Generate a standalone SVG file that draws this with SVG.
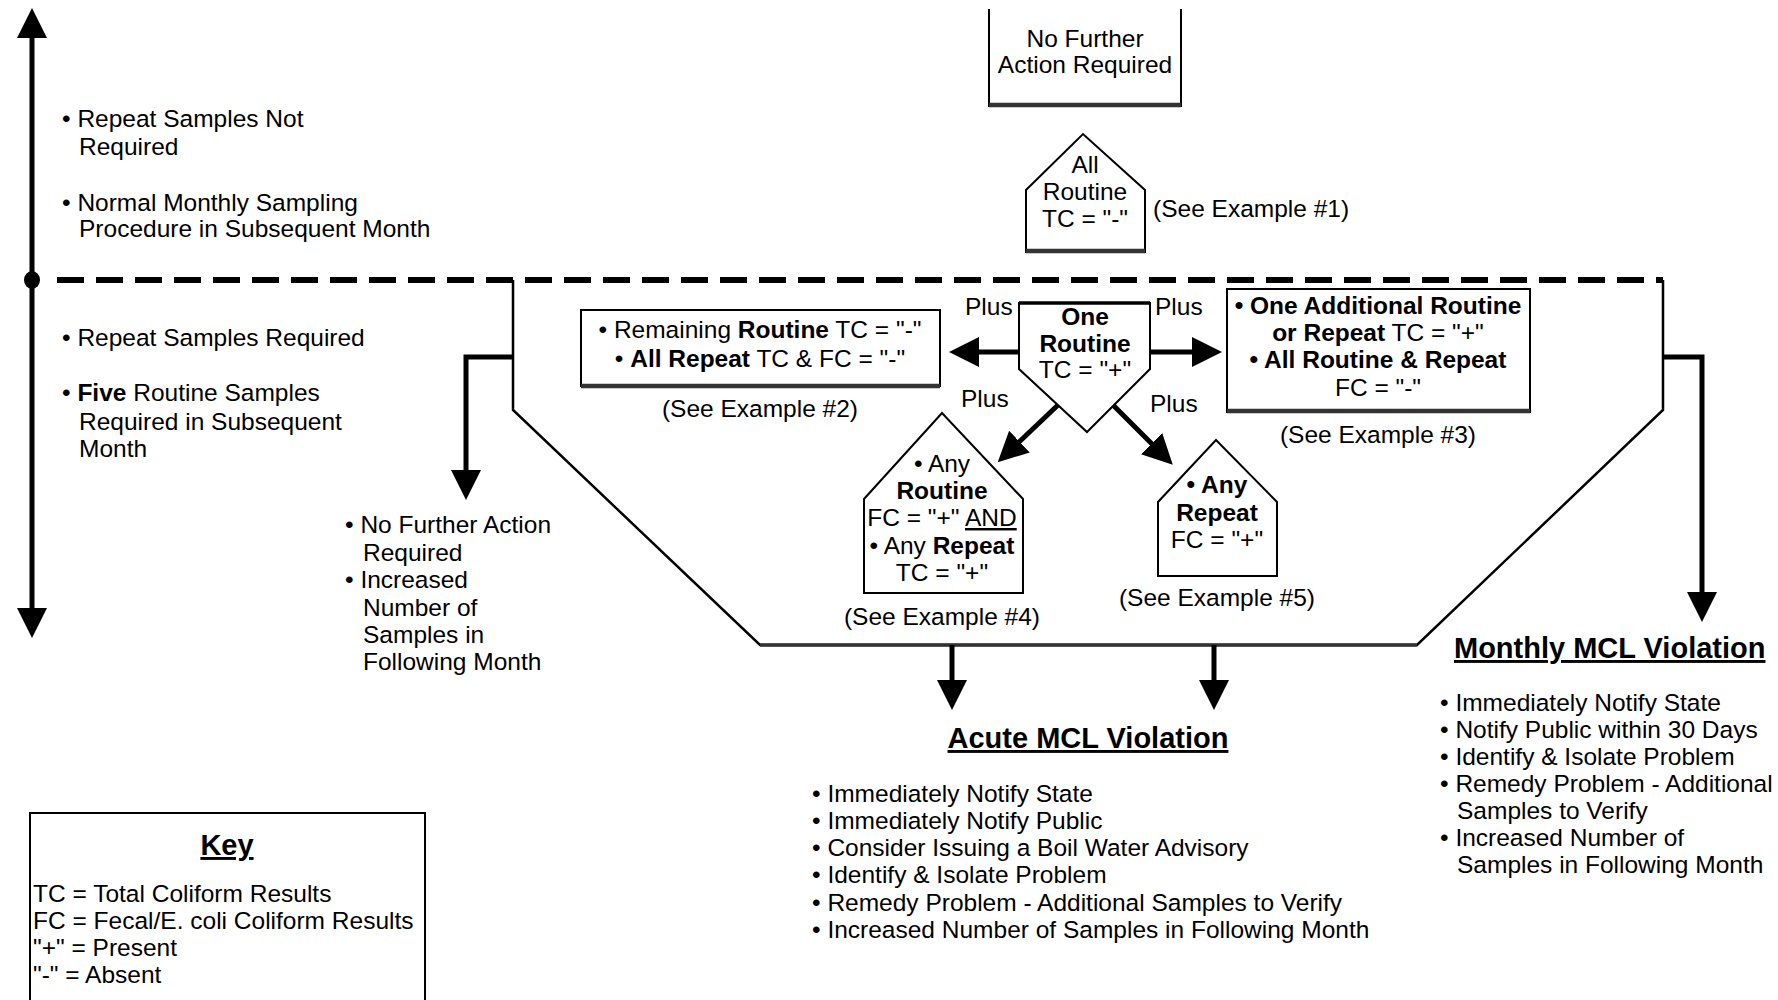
<svg xmlns="http://www.w3.org/2000/svg" width="1778" height="1000" viewBox="0 0 1778 1000">
  <style>
    .t { font-family: "Liberation Sans", Arial, Helvetica, sans-serif; font-size: 24.5px; fill: #000; }
    .b { font-weight: bold; }
    .c { text-anchor: middle; }
    .h { font-size: 29px; font-weight: bold; text-decoration: underline; }
    .u { text-decoration: underline; }
    .box { fill: #fff; stroke: #000; stroke-width: 2; }
    .open { fill: none; stroke: #000; stroke-width: 2; }
    .shadow { stroke: #333; stroke-width: 4.5; fill: none; }
    .thick { stroke: #000; stroke-width: 5; fill: none; }
    .thin { stroke: #000; stroke-width: 2.5; fill: none; }
    .dash { stroke: #000; stroke-width: 6; stroke-dasharray: 27 12; fill: none; }
  </style>
  <defs>
    <marker id="head" markerUnits="userSpaceOnUse" markerWidth="32" markerHeight="32" refX="2" refY="15" orient="auto-start-reverse" viewBox="0 0 32 30">
      <path d="M0,0 L30,15 L0,30 Z" fill="#000"/>
    </marker>
  </defs>
  <rect width="1778" height="1000" fill="#fff"/>

  <!-- connectors: timeline, threshold, trapezoid and arrows -->
  <g id="connectors">
    <line class="thick" x1="32" y1="36" x2="32" y2="610" marker-start="url(#head)" marker-end="url(#head)"/>
    <line class="dash" x1="57" y1="280" x2="1663" y2="280"/>
    <ellipse cx="32" cy="280" rx="8" ry="9" fill="#000"/>
    <path class="thin" d="M513,280 V410 L760,645 H1417 L1663,410 V280"/>
    <line x1="760" y1="645" x2="1417" y2="645" stroke="#333" stroke-width="3.5"/>
    <!-- side exits -->
    <path class="thick" d="M513,357 H466 V472" marker-end="url(#head)"/>
    <path class="thick" d="M1663,357 H1702 V594" marker-end="url(#head)"/>
    <!-- bottom exits -->
    <line class="thick" x1="952" y1="645" x2="952" y2="682" marker-end="url(#head)"/>
    <line class="thick" x1="1214" y1="645" x2="1214" y2="682" marker-end="url(#head)"/>
    <!-- from One Routine -->
    <line class="thick" x1="1019" y1="352" x2="977" y2="352" marker-end="url(#head)"/>
    <line class="thick" x1="1150" y1="352" x2="1194" y2="352" marker-end="url(#head)"/>
    <line class="thick" x1="1058" y1="405" x2="1018" y2="443" marker-end="url(#head)"/>
    <line class="thick" x1="1113" y1="405" x2="1153" y2="445" marker-end="url(#head)"/>
    <text class="t" x="965" y="315">Plus</text>
    <text class="t" x="1155" y="315">Plus</text>
    <text class="t" x="961" y="407">Plus</text>
    <text class="t" x="1150" y="412">Plus</text>
  </g>

  <!-- left-hand notes beside the timeline -->
  <g id="note-upper">
    <text class="t" x="62" y="127">• Repeat Samples Not</text>
    <text class="t" x="79" y="155">Required</text>
    <text class="t" x="62" y="211">• Normal Monthly Sampling</text>
    <text class="t" x="79" y="237">Procedure in Subsequent Month</text>
  </g>
  <g id="note-lower">
    <text class="t" x="62" y="346">• Repeat Samples Required</text>
    <text class="t" x="62" y="401">• <tspan class="b">Five</tspan> Routine Samples</text>
    <text class="t" x="79" y="430">Required in Subsequent</text>
    <text class="t" x="79" y="457">Month</text>
  </g>

  <g id="node-no-further-top">
    <path class="open" d="M989,9 V106 H1181 V9"/>
    <line class="shadow" x1="989" y1="105" x2="1181" y2="105"/>
    <text class="t c" x="1085" y="47">No Further</text>
    <text class="t c" x="1085" y="73">Action Required</text>
  </g>

  <g id="node-all-routine">
    <path class="box" d="M1026,252 V190 L1083,134 L1145,190 V252 Z"/>
    <line class="shadow" x1="1026" y1="251" x2="1145" y2="251"/>
    <text class="t c" x="1085" y="173">All</text>
    <text class="t c" x="1085" y="200">Routine</text>
    <text class="t c" x="1085" y="227">TC = "-"</text>
    <text class="t" x="1153" y="217">(See Example #1)</text>
  </g>

  <g id="node-one-routine">
    <path class="box" d="M1019,303 H1150 V369 L1087,432 L1019,369 Z"/>
    <line x1="1019" y1="303" x2="1150" y2="303" stroke="#000" stroke-width="3.5"/>
    <text class="t c b" x="1085" y="325">One</text>
    <text class="t c b" x="1085" y="352">Routine</text>
    <text class="t c" x="1085" y="378">TC = "+"</text>
  </g>

  <g id="node-remaining">
    <rect class="box" x="581" y="310" width="359" height="76"/>
    <line class="shadow" x1="581" y1="386" x2="940" y2="386"/>
    <text class="t c" x="760" y="338">• Remaining <tspan class="b">Routine</tspan> TC = "-"</text>
    <text class="t c" x="760" y="367">• <tspan class="b">All Repeat</tspan> TC &amp; FC = "-"</text>
    <text class="t c" x="760" y="417">(See Example #2)</text>
  </g>

  <g id="node-one-additional">
    <rect class="box" x="1227" y="289" width="303" height="123"/>
    <line class="shadow" x1="1227" y1="411" x2="1530" y2="411"/>
    <text class="t c b" x="1378" y="314">• One Additional Routine</text>
    <text class="t c" x="1378" y="341"><tspan class="b">or Repeat</tspan> TC = "+"</text>
    <text class="t c b" x="1378" y="368">• All Routine &amp; Repeat</text>
    <text class="t c" x="1378" y="396">FC = "-"</text>
    <text class="t c" x="1378" y="443">(See Example #3)</text>
  </g>

  <g id="node-any-routine">
    <path class="box" d="M864,593 V499 L942,413 L1023,499 V593 Z"/>
    <text class="t c" x="942" y="472">• Any</text>
    <text class="t c b" x="942" y="499">Routine</text>
    <text class="t c" x="942" y="526">FC = "+" <tspan class="u">AND</tspan></text>
    <text class="t c" x="942" y="554">• Any <tspan class="b">Repeat</tspan></text>
    <text class="t c" x="942" y="581">TC = "+"</text>
    <text class="t c" x="942" y="625">(See Example #4)</text>
  </g>

  <g id="node-any-repeat">
    <path class="box" d="M1158,576 V502 L1216,440 L1277,502 V576 Z"/>
    <text class="t c b" x="1217" y="493">• Any</text>
    <text class="t c b" x="1217" y="521">Repeat</text>
    <text class="t c" x="1217" y="548">FC = "+"</text>
    <text class="t c" x="1217" y="606">(See Example #5)</text>
  </g>

  <g id="node-no-further-lower">
    <text class="t" x="345" y="533">• No Further Action</text>
    <text class="t" x="363" y="561">Required</text>
    <text class="t" x="345" y="588">• Increased</text>
    <text class="t" x="363" y="616">Number of</text>
    <text class="t" x="363" y="643">Samples in</text>
    <text class="t" x="363" y="670">Following Month</text>
  </g>

  <g id="node-acute">
    <text class="t h c" x="1088" y="748">Acute MCL Violation</text>
    <text class="t" x="812" y="802">• Immediately Notify State</text>
    <text class="t" x="812" y="829">• Immediately Notify Public</text>
    <text class="t" x="812" y="856">• Consider Issuing a Boil Water Advisory</text>
    <text class="t" x="812" y="883">• Identify &amp; Isolate Problem</text>
    <text class="t" x="812" y="911">• Remedy Problem - Additional Samples to Verify</text>
    <text class="t" x="812" y="938">• Increased Number of Samples in Following Month</text>
  </g>

  <g id="node-monthly">
    <text class="t h" x="1454" y="658">Monthly MCL Violation</text>
    <text class="t" x="1440" y="711">• Immediately Notify State</text>
    <text class="t" x="1440" y="738">• Notify Public within 30 Days</text>
    <text class="t" x="1440" y="765">• Identify &amp; Isolate Problem</text>
    <text class="t" x="1440" y="792">• Remedy Problem - Additional</text>
    <text class="t" x="1457" y="819">Samples to Verify</text>
    <text class="t" x="1440" y="846">• Increased Number of</text>
    <text class="t" x="1457" y="873">Samples in Following Month</text>
  </g>

  <g id="key">
    <path class="open" d="M30,1000 V813 H425 V1000"/>
    <text class="t h c" x="227" y="855">Key</text>
    <text class="t" x="33" y="902">TC = Total Coliform Results</text>
    <text class="t" x="33" y="929">FC = Fecal/E. coli Coliform Results</text>
    <text class="t" x="33" y="956">"+" = Present</text>
    <text class="t" x="33" y="983">"-" = Absent</text>
  </g>
</svg>
